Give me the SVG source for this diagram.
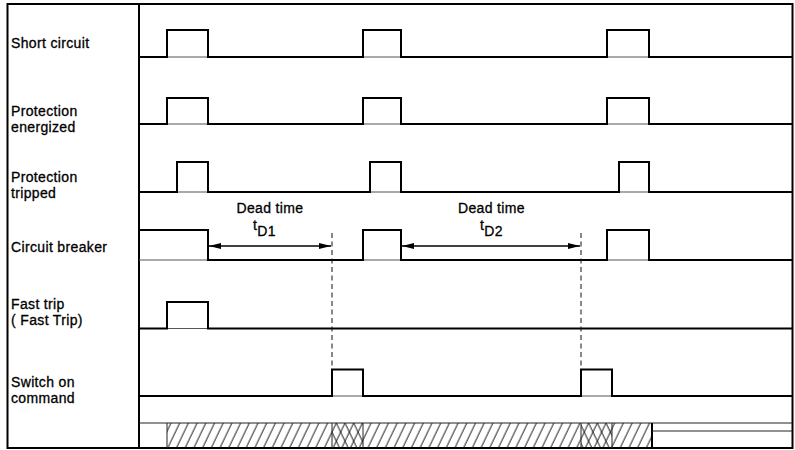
<svg xmlns="http://www.w3.org/2000/svg" width="795" height="450" viewBox="0 0 795 450">
<defs>
<style>
.lbl{font-family:"Liberation Sans",Arial,sans-serif;font-size:14px;letter-spacing:0.35px;fill:#000;stroke:#000;stroke-width:0.3}
.sig{fill:none;stroke:#000;stroke-width:2;stroke-linejoin:miter;stroke-linecap:square}
.base{stroke:#555;stroke-width:1}
.frame{fill:none;stroke:#000;stroke-width:2}
.dash{stroke:#111;stroke-width:1;stroke-dasharray:5 3.5}
.arr{stroke:#000;stroke-width:1.5;marker-start:url(#ah);marker-end:url(#ah)}
.hl{stroke:#222;stroke-width:1}
</style>
<marker id="ah" viewBox="0 0 12 6" refX="12" refY="3" markerWidth="12" markerHeight="6" markerUnits="userSpaceOnUse" orient="auto-start-reverse">
<path d="M0,0 L12,3 L0,6 Z" fill="#000"/>
</marker>
<pattern id="hatchA" patternUnits="userSpaceOnUse" width="8.7" height="30" patternTransform="translate(167,423) skewX(-25.6)">
<line x1="4" y1="0" x2="4" y2="30" stroke="#111" stroke-width="1"/>
</pattern>
<pattern id="hatchB" patternUnits="userSpaceOnUse" width="8.7" height="30" patternTransform="translate(167,423) skewX(25.6)">
<line x1="4" y1="0" x2="4" y2="30" stroke="#111" stroke-width="1"/>
</pattern>
</defs>
<rect x="0" y="0" width="795" height="450" fill="#fff"/>

<g id="frame">
<rect class="frame" x="7.5" y="4" width="785" height="444"/>
<line x1="139" y1="4" x2="139" y2="448" stroke="#000" stroke-width="2"/>
</g>

<g id="hatch-strip">
<rect x="167" y="423" width="485" height="25" fill="url(#hatchA)"/>
<rect x="332" y="423" width="31" height="25" fill="url(#hatchB)"/>
<rect x="581" y="423" width="31" height="25" fill="url(#hatchB)"/>
<line class="hl" x1="139" y1="423" x2="792" y2="423" stroke-width="1.3"/>
<line class="hl" x1="167" y1="423" x2="167" y2="448"/>
<line class="hl" x1="332" y1="423" x2="332" y2="448"/>
<line class="hl" x1="363" y1="423" x2="363" y2="448"/>
<line class="hl" x1="581" y1="423" x2="581" y2="448"/>
<line class="hl" x1="612" y1="423" x2="612" y2="448"/>
<line x1="652" y1="423" x2="652" y2="448" stroke="#000" stroke-width="2"/>
<line class="hl" x1="652" y1="431" x2="792" y2="431"/>
</g>

<g id="short-circuit">
<text class="lbl" x="11" y="48">Short circuit</text>
<line class="base" x1="139" y1="57" x2="792" y2="57"/>
<path class="sig" d="M139,57 H167 V30 H208 V57 H363 V30 H401 V57 H607 V30 H649 V57 H792"/>
</g>

<g id="protection-energized">
<text class="lbl" x="11" y="116">Protection</text>
<text class="lbl" x="11" y="132">energized</text>
<line class="base" x1="139" y1="124" x2="792" y2="124"/>
<path class="sig" d="M139,124 H167 V98 H208 V124 H363 V98 H401 V124 H607 V98 H649 V124 H792"/>
</g>

<g id="protection-tripped">
<text class="lbl" x="11" y="182">Protection</text>
<text class="lbl" x="11" y="198">tripped</text>
<line class="base" x1="139" y1="192" x2="792" y2="192"/>
<path class="sig" d="M139,192 H177 V162 H208 V192 H370 V162 H401 V192 H619 V162 H649 V192 H792"/>
</g>

<g id="circuit-breaker">
<text class="lbl" x="11" y="252">Circuit breaker</text>
<line class="base" x1="139" y1="260" x2="792" y2="260"/>
<path class="sig" d="M139,230 H208 V260 H363 V230 H401 V260 H607 V230 H649 V260 H792"/>
</g>

<g id="fast-trip">
<text class="lbl" x="11" y="309">Fast trip</text>
<text class="lbl" x="11" y="325">( Fast Trip)</text>
<line class="base" x1="139" y1="328.5" x2="792" y2="328.5"/>
<path class="sig" d="M139,328.5 H167 V302 H208 V328.5 H792"/>
</g>

<g id="switch-on-command">
<text class="lbl" x="11" y="387">Switch on</text>
<text class="lbl" x="11" y="403">command</text>
<line class="base" x1="139" y1="396" x2="792" y2="396"/>
<path class="sig" d="M139,396 H332 V369.5 H363 V396 H581 V369.5 H612 V396 H792"/>
</g>

<g id="connectors">
<line class="dash" x1="332" y1="233" x2="332" y2="369"/>
<line class="dash" x1="581" y1="233" x2="581" y2="369"/>
<line class="arr" x1="209" y1="246" x2="331" y2="246"/>
<line class="arr" x1="402" y1="246" x2="580" y2="246"/>
</g>

<g id="dead-time-1">
<text class="lbl" x="270" y="213" text-anchor="middle">Dead time</text>
<text class="lbl" x="253" y="230">t<tspan y="236">D1</tspan></text>
</g>

<g id="dead-time-2">
<text class="lbl" x="491.5" y="213" text-anchor="middle">Dead time</text>
<text class="lbl" x="480" y="230">t<tspan y="236">D2</tspan></text>
</g>
</svg>
